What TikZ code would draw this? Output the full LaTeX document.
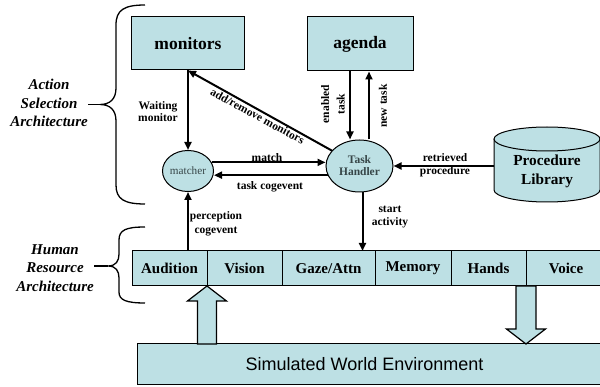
\documentclass[tikz,border=0pt]{standalone}
\usepackage{fontspec}
\setmainfont{Liberation Serif}
\newfontfamily\worldfont{Liberation Sans}
\usetikzlibrary{positioning,shapes.geometric,arrows.meta}
\definecolor{boxcyan}{RGB}{189,224,228}
\definecolor{ovaltext}{RGB}{55,70,72}

\begin{document}
\begin{tikzpicture}[x=1pt,y=-1pt,>={Triangle[length=8pt,width=7pt]}]
  \tikzstyle{every node}=[font=\fontsize{11.5}{12}\selectfont\bfseries,align=center,inner sep=1pt]
  \tikzstyle{box}=[draw,fill=boxcyan,line width=1pt,inner sep=0pt]
  \tikzstyle{oval}=[box,ellipse,text=ovaltext]
  \tikzstyle{cell}=[box,minimum height=35pt,outer sep=0pt,font=\fontsize{15}{16}\selectfont\bfseries]
  \tikzstyle{link}=[line width=2pt]
  \tikzstyle{hollow}=[draw,fill=boxcyan,line width=1.2pt]
  \tikzstyle{side}=[font=\fontsize{15}{18.5}\selectfont\bfseries\itshape]
  \tikzstyle{brace}=[line width=1.3pt]

  \useasboundingbox (0,0) rectangle (600,387);

 \node[box,minimum width=113pt,minimum height=53pt,font=\fontsize{17.5}{18}\selectfont\bfseries] (mon) at (188,43.5) {monitors};
 \node[box,minimum width=106pt,minimum height=54pt,font=\fontsize{17.5}{18}\selectfont\bfseries] (ag) at (360,44) {agenda};
 \node[oval,minimum width=51pt,minimum height=41pt,font=\fontsize{11.2}{12}\selectfont] (mat) at (188,171) {matcher};
 \node[oval,minimum width=67pt,minimum height=52pt] (th) at (359.5,166) {Task\\Handler};

 \draw[box] (494,139) -- (494,190) arc[start angle=180,end angle=360,x radius=53pt,y radius=12pt] -- (600,139);
 \draw[box] (547,139) ellipse[x radius=53pt,y radius=12pt];
 \node[font=\fontsize{15.3}{19}\selectfont\bfseries] (lib) at (547,171) {Procedure\\Library};
 \coordinate (libw) at (494,166);

 \node[cell,minimum width=75pt] (aud) at (169.5,268.5) {Audition};
 \node[cell,minimum width=75pt,right=0pt of aud] (vis) {Vision};
 \node[cell,minimum width=93pt,right=0pt of vis] (gaze) {Gaze/Attn};
 \node[cell,minimum width=76pt,right=0pt of gaze] (mem) {Memory};
 \node[cell,minimum width=75pt,right=0pt of mem] (hands) {Hands};
 \node[cell,minimum width=80pt,right=0pt of hands] (voice) {Voice};

 \node[box,minimum width=470pt,minimum height=41pt,font=\worldfont\fontsize{18}{20}\selectfont] (sim) at (372,364.5) {Simulated World Environment\hspace{15pt}};

 \draw[hollow] (aud.south east) -- ++(19.5,15) -- ++(-10,0) -- ++(0,43) -- ++(-19,0) -- ++(0,-43) -- ++(-10,0) -- cycle;
 \draw[hollow] ([xshift=-10pt]hands.south east) -- ++(20,0) -- ++(0,43) -- ++(9.5,0) -- ++(-19.5,15) -- ++(-19.5,-15) -- ++(9.5,0) -- cycle;

 \draw[link,->] (mon.south) -- (mat.north);
 \draw[link,<-] (mon.south) -- (th);
 \draw[link,->] (mat.20) -- (mat.20 -| th.west);
 \draw[link,->] (th.196) -- (th.196 -| mat.east);
 \draw[link,->] (mat.south |- aud.north) -- (mat.south);
 \draw[link,->] ([xshift=3pt]th.south) -- ([xshift=3pt]th.south |- gaze.north);
 \draw[link,->] ([xshift=-10pt]ag.south) -- ([xshift=-10pt]ag.south |- th.north);
 \draw[link,->] ([xshift=9pt]ag.south |- th.north) -- ([xshift=9pt]ag.south);
 \draw[link,->] (libw) -- (th.east);

 \node (waitl) at (158,112) {Waiting\\monitor};
 \node[rotate=-28.5] (addl) at (257.5,116) {add/remove monitors};
 \node (matchl) at (267,158) {match};
 \node (cogl) at (270,187) {task cogevent};
 \node[rotate=90,font=\fontsize{11.5}{15.5}\selectfont\bfseries] (enl) at (333,104) {enabled\\task};
 \node[rotate=90] (newl) at (383,106) {new task};
 \node[font=\fontsize{11.5}{13}\selectfont\bfseries] (retl) at (445,165.5) {retrieved\\procedure};
 \node[font=\fontsize{11.5}{13}\selectfont\bfseries] (startl) at (390,217) {start\\activity};
 \node[font=\fontsize{11.5}{14}\selectfont\bfseries] (percl) at (216,224) {perception\\cogevent};

 \node[side] (asa) at (49,103) {Action\\Selection\\Architecture};
 \node[side] (hra) at (55,268) {Human\\Resource\\Architecture};

 \draw[brace] (145,5) .. controls (124,5) and (116,10) .. (116,25) -- (116,88) .. controls (116,99) and (110,104.5) .. (100,104.5) .. controls (110,104.5) and (116,110) .. (116,121) -- (116,185) .. controls (116,199) and (124,204) .. (145,204);
 \draw[brace] (88,104.5) -- (100,104.5);
 \draw[brace] (145,227) .. controls (126,227) and (119,230) .. (119,240) -- (119,254) .. controls (119,261) and (116,266) .. (108,266) .. controls (116,266) and (119,271) .. (119,278) -- (119,292) .. controls (119,300) and (126,303) .. (145,303);
 \draw[brace] (94,266) -- (108,266);

\end{tikzpicture}
\end{document}
